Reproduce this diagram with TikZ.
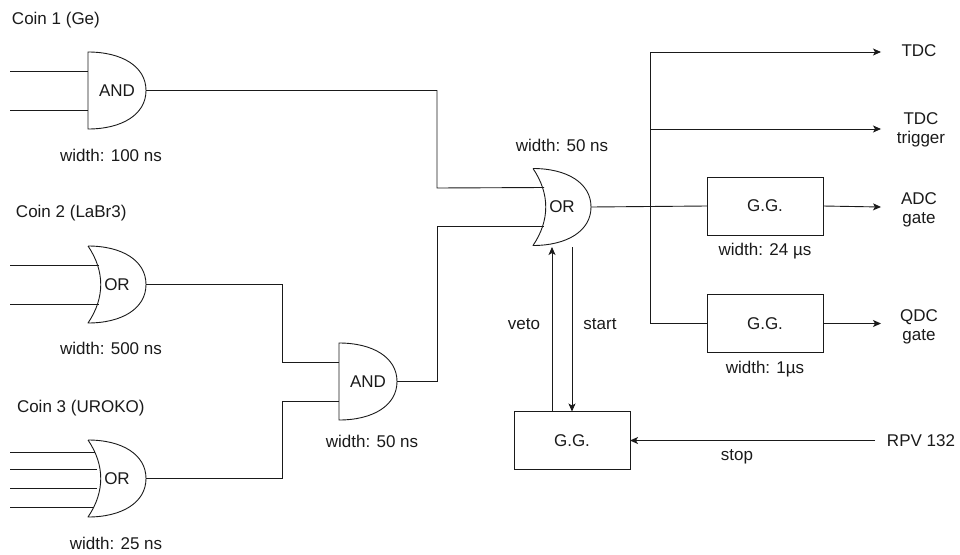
\documentclass[tikz,border=0pt]{standalone}
\usepackage{fontspec}
\setmainfont{Liberation Sans}
\usetikzlibrary{arrows.meta,calc}
\definecolor{ink}{HTML}{1A1A1A}
\tikzset{
  lbl/.style={inner sep=0pt,outer sep=0pt,text=ink,font=\fontsize{17}{20}\selectfont,align=center},
  gatebox/.style={lbl,minimum width=58pt,minimum height=77pt},
  gateline/.style={draw=ink,line width=0.9pt,line join=round},
  wire/.style={draw=ink,line width=0.9pt},
  awire/.style={wire,-{Stealth[length=8pt,width=7pt,inset=2pt]}},
  box/.style={lbl,draw=ink,line width=0.9pt,minimum width=116pt,minimum height=58pt},
}
\newcommand\gatefront[1]{(#1.north west) .. controls +(34,0) and +(0,-24) .. (#1.east) .. controls +(0,24) and +(34,0) .. (#1.south west)}
\newcommand\andgate[3]{%
  \node[gatebox] (#1) at (#2) {#3};
  \draw[gateline] \gatefront{#1} -- cycle;
  \coordinate (#1-a) at ($(#1.west)+(0,-19.5)$);
  \coordinate (#1-b) at ($(#1.west)+(0,19.5)$);
}
\newcommand\orgate[3]{%
  \node[gatebox] (#1) at (#2) {#3};
  \draw[gateline] \gatefront{#1} .. controls +(17,-25) and +(17,25) .. (#1.north west);
  \coordinate (#1-a) at ($(#1.west)+(11,-19.5)$);
  \coordinate (#1-b) at ($(#1.west)+(11,19.5)$);
}
\begin{document}
\begin{tikzpicture}[x=1pt,y=-1pt]
\useasboundingbox (0,0) rectangle (960,554);
% gates
\andgate{andA}{117,90.5}{AND}
\orgate{orB}{117,284.5}{OR}
\orgate{orC}{117,478.5}{OR}
\andgate{andD}{368,381.5}{AND}
\orgate{orE}{562,207}{OR}
% boxes
\node[box] (ggA) at (765,206) {G.G.};
\node[box] (ggB) at (765,323.5) {G.G.};
\node[box] (ggC) at (572,440.5) {G.G.};
% labels
\node[lbl,anchor=west] (coinA) at (12,20) {Coin 1 (Ge)};
\node[lbl,anchor=west] (coinB) at (16,213.5) {Coin 2 (LaBr3)};
\node[lbl,anchor=west] (coinC) at (17,408.5) {Coin 3 (UROKO)};
\node[lbl] (wA) at (111,155) {width: 100 ns};
\node[lbl] (wB) at (111,348) {width: 500 ns};
\node[lbl] (wC) at (116,543) {width: 25 ns};
\node[lbl] (wD) at (372,441) {width: 50 ns};
\node[lbl] (wE) at (562,145) {width: 50 ns};
\node[lbl] (wF) at (765,251) {width: 24 µs};
\node[lbl] (wG) at (765,369) {width: 1µs};
\node[lbl] (veto) at (524,324) {veto};
\node[lbl] (start) at (600,324) {start};
\node[lbl] (stop) at (737,457) {stop};
\node[lbl] (rpv) at (921,441) {RPV 132};
\node[lbl] (tdc) at (919,51) {TDC};
\node[lbl] (tdct) at (921,129.5) {TDC\\[-1pt]trigger};
\node[lbl] (adc) at (919,209.5) {ADC\\[-1pt]gate};
\node[lbl] (qdc) at (919,326.5) {QDC\\[-1pt]gate};
% free ends
\coordinate (ia1) at (10,71);
\coordinate (ia2) at (10,110);
\coordinate (ib1) at (10,265);
\coordinate (ib2) at (10,304);
\coordinate (ic1) at (10,452);
\coordinate (ic2) at (10,469);
\coordinate (ic3) at (10,488);
\coordinate (ic4) at (10,507);
\coordinate (busT) at (650,52);
\coordinate (busM) at (650,129);
\coordinate (busJ) at (650,207);
\coordinate (tT) at (881,52);
\coordinate (tM) at (881,129);
\coordinate (tA) at (881,207);
\coordinate (tQ) at (881,323.5);
\coordinate (rpvS) at (875,440.5);
% input wires
\draw[wire] (ia1) -- (andA.west |- ia1);
\draw[wire] (ia2) -- (andA.west |- ia2);
\draw[wire] (ib1) -- (orB-a);
\draw[wire] (ib2) -- (orB-b);
\draw[wire] (ic1) -- (95,452);
\draw[wire] (ic2) -- (97,469);
\draw[wire] (ic3) -- (97,488);
\draw[wire] (ic4) -- (93,507);
% gate to gate
\draw[wire] (andA.east) -- (437,90.5) -- (437,188) -- (orE-a);
\draw[wire] (orB.east) -- (282,284.5) -- (282,362) -- (andD-a);
\draw[wire] (orC.east) -- (282,478.5) -- (282,401) -- (andD-b);
\draw[wire] (andD.east) -- (437,381.5) -- (437,226.5) -- (orE-b);
% outputs
\draw[wire] (orE.east) -- (ggA.west);
\draw[awire] (busM) -- (tM);
\draw[awire] (ggA.east) -- (tA);
\draw[awire] (ggB.east) -- (tQ);
\draw[awire] (busT) -- (tT);
\draw[wire] (busT) -- (busJ) -- (650,323.5) -- (ggB.west);
% feedback
\draw[awire] (ggC.north -| 552,0) -- (552,247);
\draw[awire] (572,247) -- (ggC.north);
\draw[awire] (rpvS) -- (ggC.east);
\end{tikzpicture}
\end{document}
